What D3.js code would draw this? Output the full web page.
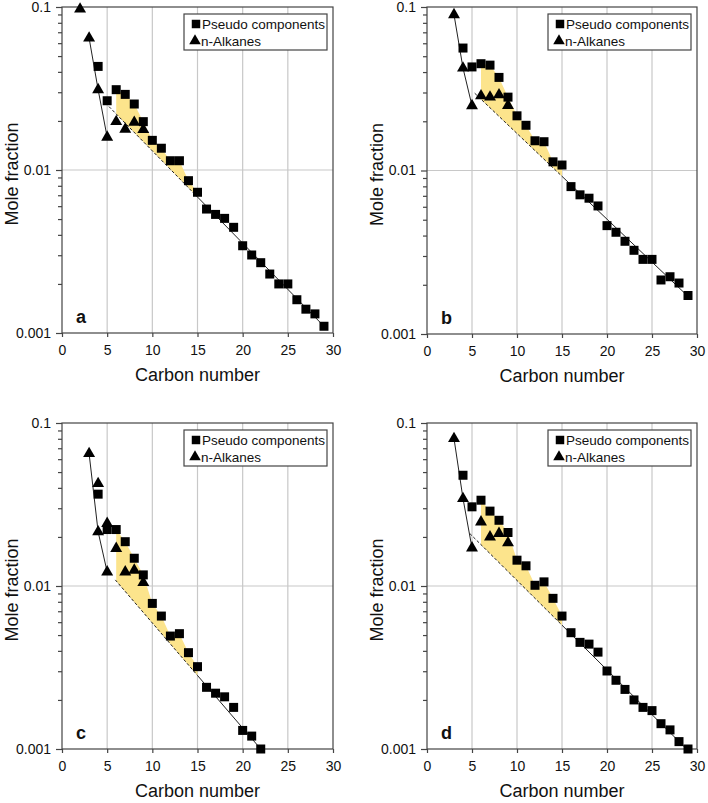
<!DOCTYPE html>
<html><head><meta charset="utf-8">
<script src="https://cdn.jsdelivr.net/npm/d3@7"></script>
<style>
html,body{margin:0;padding:0;background:#fff;}
svg{display:block;font-family:Arial,"Liberation Sans",sans-serif;}
</style></head>
<body><svg id="chart" width="708" height="803"></svg>
<script>
// ---------- DATA ----------
const panelLetters = ["a", "b", "c", "d"];
const xTicks = [0, 5, 10, 15, 20, 25, 30];
const yMajor = [0.001, 0.01, 0.1];
const yMajorLabels = ["0.001", "0.01", "0.1"];
const legendLabels = ["Pseudo components", "n-Alkanes"];
const xTitle = "Carbon number";
const yTitle = "Mole fraction";

// Pseudo components (squares): carbon numbers and mole fractions
const pseudoCarbonA = [4,5,6,7,8,9,10,11,12,13,14,15,16,17,18,19,20,21,22,23,24,25,26,27,28,29];
const pseudoA = [0.0432,0.0266,0.0311,0.0291,0.0254,0.0198,0.0152,0.0136,0.0114,0.0114,0.0086,0.0073,0.00576,0.00534,0.00505,0.00445,0.00343,0.00301,0.0027,0.0023,0.002,0.002,0.0016,0.0014,0.00131,0.0011];
const pseudoCarbonB = [4,5,6,7,8,9,10,11,12,13,14,15,16,17,18,19,20,21,22,23,24,25,26,27,28,29];
const pseudoB = [0.0561,0.043,0.045,0.0441,0.0371,0.0281,0.0216,0.0189,0.0152,0.015,0.0113,0.0108,0.00797,0.0071,0.00677,0.00607,0.0046,0.00419,0.00369,0.00325,0.00286,0.00286,0.00214,0.00224,0.00205,0.00172];
const pseudoCarbonC = [4,5,6,7,8,9,10,11,12,13,14,15,16,17,18,19,20,21,22];
const pseudoC = [0.0366,0.0222,0.0222,0.0187,0.0148,0.0117,0.00782,0.00654,0.00493,0.0051,0.0039,0.0032,0.00239,0.0022,0.00209,0.0018,0.0013,0.0012,0.001];
const pseudoCarbonD = [4,5,6,7,8,9,10,11,12,13,14,15,16,17,18,19,20,21,22,23,24,25,26,27,28,29];
const pseudoD = [0.0478,0.0306,0.0336,0.0288,0.0253,0.0213,0.0144,0.0133,0.0101,0.0106,0.0084,0.00654,0.00517,0.00451,0.0044,0.00393,0.00301,0.00264,0.00232,0.002,0.0018,0.00172,0.00143,0.00131,0.00111,0.001];

// n-Alkanes (triangles)
const alkCarbonA = [2,3,4,5,6,7,8,9];
const alkA = [0.097,0.0645,0.0311,0.0159,0.0198,0.0178,0.0196,0.0177];
const alkCarbonB = [3,4,5,6,7,8,9];
const alkB = [0.0897,0.0423,0.0249,0.0286,0.0281,0.029,0.025];
const alkCarbonC = [3,4,4,5,5,6,7,8,9];
const alkC = [0.0649,0.0425,0.0215,0.0242,0.0122,0.017,0.0122,0.0125,0.0105];
const alkCarbonD = [3,4,5,6,7,8,9];
const alkD = [0.0802,0.0344,0.0171,0.0247,0.02,0.021,0.0184];

// Solid line through the light n-alkanes (C3-C5)
const lightCarbon = [3,4,5];
const lightA = [0.0645,0.0311,0.0159];
const lightB = [0.0897,0.0423,0.0249];
const lightC = [0.0649,0.0215,0.0122];
const lightD = [0.0802,0.0344,0.0171];

// Exponential fit line: [start carbon, end carbon], [start value, end value]
const fitCarbonA = [5.2, 29]; const fitA = [0.0245, 0.0011];
const fitCarbonB = [5.3, 29]; const fitB = [0.0297, 0.0017];
const fitCarbonC = [5.9, 22]; const fitC = [0.0109, 0.001];
const fitCarbonD = [4.75, 29]; const fitD = [0.021, 0.00098];

// Shaded (excess) region between pseudo components and fit, carbon range
const shadeRange = [6, 15];

// ---------- LAYOUT ----------
const layout = [
  {left: 62,  top: 7,   width: 271, height: 326},
  {left: 427, top: 7,   width: 270, height: 327},
  {left: 62,  top: 423, width: 271, height: 326},
  {left: 427, top: 423, width: 270, height: 326}
];
const panels = [
  {pc: pseudoCarbonA, pv: pseudoA, ac: alkCarbonA, av: alkA, lv: lightA, fc: fitCarbonA, fv: fitA},
  {pc: pseudoCarbonB, pv: pseudoB, ac: alkCarbonB, av: alkB, lv: lightB, fc: fitCarbonB, fv: fitB},
  {pc: pseudoCarbonC, pv: pseudoC, ac: alkCarbonC, av: alkC, lv: lightC, fc: fitCarbonC, fv: fitC},
  {pc: pseudoCarbonD, pv: pseudoD, ac: alkCarbonD, av: alkD, lv: lightD, fc: fitCarbonD, fv: fitD}
];

const svg = d3.select("#chart");
const fillColor = "#fce48c";
const gridColor = "#c8c8c8";
const axisColor = "#444";

panels.forEach((p, i) => {
  const L = layout[i];
  const g = svg.append("g").attr("transform", `translate(${L.left},${L.top})`);
  const x = d3.scaleLinear().domain([0, 30]).range([0, L.width]);
  const y = d3.scaleLog().domain([0.001, 0.1]).range([L.height, 0]);

  // grid
  g.append("g").selectAll("line").data(xTicks.slice(1, -1)).join("line")
    .attr("x1", d => x(d)).attr("x2", d => x(d)).attr("y1", 0).attr("y2", L.height)
    .attr("stroke", gridColor).attr("stroke-width", 1.2);
  g.append("g").selectAll("line").data([0.01]).join("line")
    .attr("x1", 0).attr("x2", L.width).attr("y1", d => y(d)).attr("y2", d => y(d))
    .attr("stroke", gridColor).attr("stroke-width", 1.2);

  // fit function (log-linear between endpoints)
  const fitAt = c => {
    const t = (c - p.fc[0]) / (p.fc[1] - p.fc[0]);
    return Math.pow(10, Math.log10(p.fv[0]) + t * (Math.log10(p.fv[1]) - Math.log10(p.fv[0])));
  };

  // shaded region
  const top = p.pc.map((c, k) => [c, p.pv[k]]).filter(d => d[0] >= shadeRange[0] && d[0] <= shadeRange[1]);
  const bottom = top.map(d => [d[0], fitAt(d[0])]).reverse();
  const poly = top.concat(bottom);
  g.append("path").datum(poly)
    .attr("d", d3.line().x(d => x(d[0])).y(d => y(d[1])))
    .attr("fill", fillColor).attr("stroke", "none");

  // fit line: dashed until shade end, solid after
  const line = d3.line().x(d => x(d[0])).y(d => y(d[1]));
  g.append("path").datum([[p.fc[0], p.fv[0]], [shadeRange[1], fitAt(shadeRange[1])]])
    .attr("d", line).attr("fill", "none").attr("stroke", "#222")
    .attr("stroke-width", 1).attr("stroke-dasharray", "3,2");
  g.append("path").datum([[shadeRange[1], fitAt(shadeRange[1])], [p.fc[1], p.fv[1]]])
    .attr("d", line).attr("fill", "none").attr("stroke", "#222").attr("stroke-width", 1);

  // light alkanes line
  g.append("path").datum(lightCarbon.map((c, k) => [c, p.lv[k]]))
    .attr("d", line).attr("fill", "none").attr("stroke", "#222").attr("stroke-width", 1);

  // frame
  g.append("rect").attr("x", 0).attr("y", 0).attr("width", L.width).attr("height", L.height)
    .attr("fill", "none").attr("stroke", axisColor).attr("stroke-width", 1.2);

  // axes
  const minor = [];
  [0.001, 0.01].forEach(dec => { for (let m = 2; m <= 9; m++) minor.push(dec * m); });
  const yMinorAxis = g.append("g").call(d3.axisLeft(y).tickValues(minor).tickSize(4).tickFormat(""));
  const yMajorAxis = g.append("g").call(d3.axisLeft(y).tickValues(yMajor).tickSize(6).tickPadding(5)
    .tickFormat((d, k) => yMajorLabels[k]));
  const xAxis = g.append("g").attr("transform", `translate(0,${L.height})`)
    .call(d3.axisBottom(x).tickValues(xTicks).tickSize(4).tickPadding(8).tickFormat(d3.format("d")));
  [yMinorAxis, yMajorAxis, xAxis].forEach(a => {
    a.select(".domain").remove();
    a.selectAll("line").attr("stroke", axisColor).attr("stroke-width", 1.2);
    a.selectAll("text").attr("font-size", 14).attr("fill", "#111")
      .attr("font-family", "Arial, 'Liberation Sans', sans-serif");
  });

  // markers
  g.append("g").selectAll("path").data(p.pc.map((c, k) => [c, p.pv[k]])).join("path")
    .attr("transform", d => `translate(${x(d[0])},${y(d[1])})`)
    .attr("d", d3.symbol(d3.symbolSquare, 81)).attr("fill", "#000");
  g.append("g").selectAll("path").data(p.ac.map((c, k) => [c, p.av[k]])).join("path")
    .attr("transform", d => `translate(${x(d[0])},${y(d[1])})`)
    .attr("d", d3.symbol(d3.symbolTriangle, 62)).attr("fill", "#000");

  // legend
  const lw = 143, lh = 36;
  const lg = g.append("g").attr("transform", `translate(${L.width - 6 - lw},7)`);
  lg.append("rect").attr("width", lw).attr("height", lh).attr("fill", "#fff")
    .attr("stroke", axisColor).attr("stroke-width", 1.2);
  lg.append("path").attr("transform", "translate(12,10)").attr("d", d3.symbol(d3.symbolSquare, 72)).attr("fill", "#000");
  lg.append("path").attr("transform", "translate(11,27)").attr("d", d3.symbol(d3.symbolTriangle, 58)).attr("fill", "#000");
  lg.append("text").attr("x", 18).attr("y", 15).attr("font-size", 13.5).attr("fill", "#111").text(legendLabels[0]);
  lg.append("text").attr("x", 17).attr("y", 32).attr("font-size", 13.5).attr("fill", "#111").text(legendLabels[1]);

  // panel letter
  g.append("text").attr("x", 14).attr("y", L.height - 10).attr("font-size", 18)
    .attr("font-weight", "bold").attr("fill", "#111").text(panelLetters[i]);

  // axis titles
  g.append("text").attr("x", L.width / 2).attr("y", L.height + 48).attr("text-anchor", "middle")
    .attr("font-size", 18).attr("fill", "#111").text(xTitle);
  g.append("text").attr("transform", `translate(${-50},${L.height / 2 + 4}) rotate(-90)`)
    .attr("dy", "0.35em").attr("text-anchor", "middle").attr("font-size", 18).attr("fill", "#111").text(yTitle);
});
</script></body></html>
